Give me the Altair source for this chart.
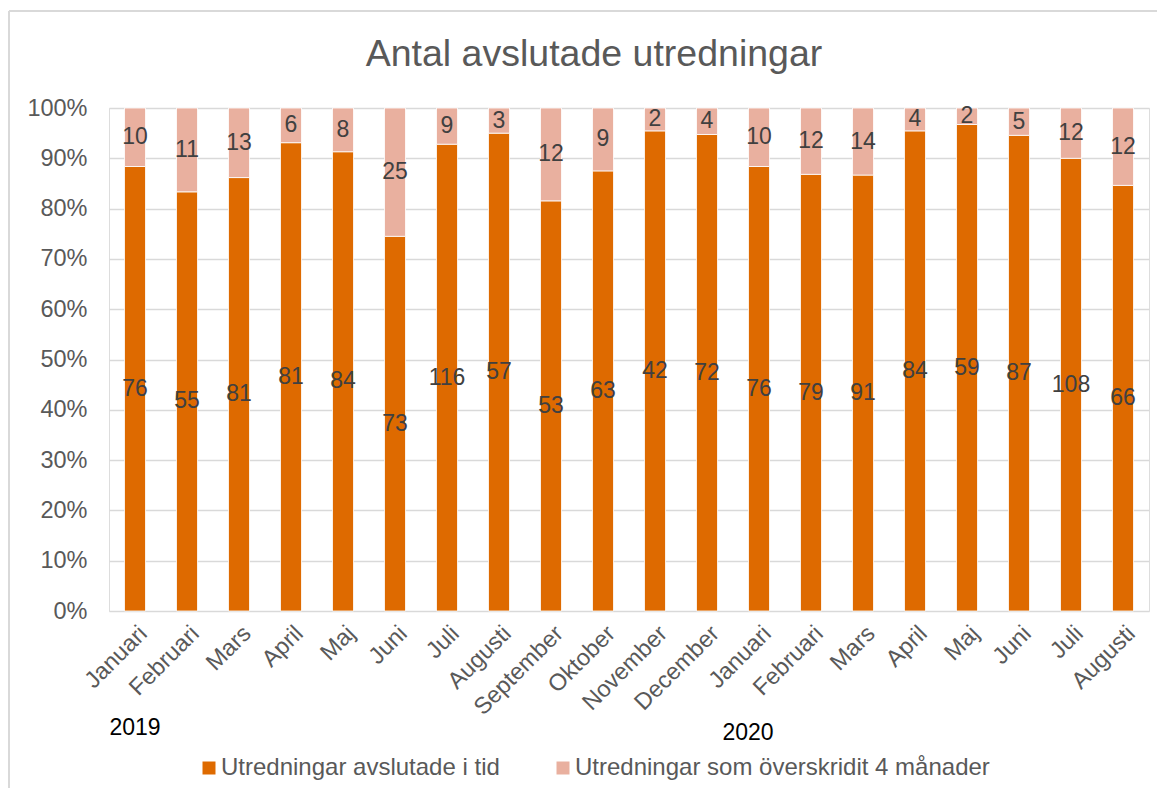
import altair as alt
import pandas as pd

months = ["Januari", "Februari", "Mars", "April", "Maj", "Juni", "Juli", "Augusti",
          "September", "Oktober", "November", "December",
          "Januari", "Februari", "Mars", "April", "Maj", "Juni", "Juli", "Augusti"]
years = [2019] * 12 + [2020] * 8
in_time = [76, 55, 81, 81, 84, 73, 116, 57, 53, 63, 42, 72, 76, 79, 91, 84, 59, 87, 108, 66]
overdue = [10, 11, 13, 6, 8, 25, 9, 3, 12, 9, 2, 4, 10, 12, 14, 4, 2, 5, 12, 12]
series = ["Utredningar avslutade i tid", "Utredningar som överskridit 4 månader"]
colors = ["#DE6A00", "#E9B09F"]
year_labels = ["2019", "2020"]

keys = [f"{m}|{y}" for m, y in zip(months, years)]
rows = []
for k, a, b in zip(keys, in_time, overdue):
    rows.append({"key": k, "series": series[0], "order": 0, "value": a})
    rows.append({"key": k, "series": series[1], "order": 1, "value": b})
df = pd.DataFrame(rows)

FONT = "Liberation Sans"
W, H = 1040, 503

xenc = alt.X("key:N", sort=keys,
             scale=alt.Scale(paddingInner=0.596, paddingOuter=0.298),
             axis=alt.Axis(title=None, labelExpr="split(datum.label, '|')[0]",
                           labelAngle=-45, labelFontSize=23.5, labelColor="#595959",
                           labelFont=FONT, domain=False, ticks=False, labelPadding=10))

base = alt.Chart(df).transform_stack(
    stack="value", groupby=["key"], as_=["y0", "y1"], offset="normalize",
    sort=[alt.SortField("order", "ascending")]
).transform_calculate(mid="(datum.y0 + datum.y1) / 2")

bars = base.mark_bar(stroke="white", strokeWidth=0.8).encode(
    x=xenc,
    y=alt.Y("y0:Q", scale=alt.Scale(domain=[0, 1]),
            axis=alt.Axis(title=None, format=".0%", values=[i / 10 for i in range(11)],
                          labelFontSize=23.5, labelColor="#595959", labelFont=FONT,
                          domain=False, ticks=False, labelPadding=22,
                          gridColor="#d9d9d9", gridWidth=1.5)),
    y2="y1:Q",
    color=alt.Color("series:N", sort=series,
                    scale=alt.Scale(domain=series, range=colors),
                    legend=alt.Legend(title=None, orient="none", direction="horizontal",
                                      legendX=88, legendY=648,
                                      symbolType="square", symbolSize=169,
                                      symbolStrokeWidth=0, labelFontSize=24,
                                      labelColor="#595959", labelFont=FONT,
                                      labelLimit=600,
                                      columnPadding=51, labelOffset=0)),
    order=alt.Order("order:Q"),
)

texts = base.mark_text(fontSize=23, color="#404040", font=FONT, baseline="middle").encode(
    x=alt.X("key:N", sort=keys),
    y=alt.Y("mid:Q"),
    text=alt.Text("value:Q"),
)

year_marks = []
for yl, dx in zip(year_labels, [0, -11]):
    ydf = pd.DataFrame({"year": [yl], "key": [keys[years.index(int(yl))]]})
    year_marks.append(
        alt.Chart(ydf).mark_text(fontSize=23, color="black", font=FONT,
                                 baseline="middle", dx=dx).encode(
            x=alt.X("key:N", sort=keys),
            y=alt.value(620 if yl == "2019" else 625),
            text="year:N",
        )
    )

border_top = alt.Chart(pd.DataFrame({"a": [0]})).mark_rule(color="#d9d9d9", strokeWidth=2).encode(
    x=alt.value(-100), x2=alt.value(W + 8), y=alt.value(-97))
border_left = alt.Chart(pd.DataFrame({"a": [0]})).mark_rule(color="#d9d9d9", strokeWidth=2).encode(
    x=alt.value(-100), y=alt.value(-97), y2=alt.value(H + 177))

chart = alt.layer(border_top, border_left, bars, texts, *year_marks).properties(
    width=W, height=H,
    title=alt.TitleParams("Antal avslutade utredningar", fontSize=37.5, color="#595959",
                          font=FONT, fontWeight="normal", anchor="middle", offset=-63,
                          dx=-35),
    autosize=alt.AutoSizeParams(type="none"),
    padding={"left": 101, "top": 100, "right": 8, "bottom": 177},
).configure_view(stroke=None).configure(background="white")

chart.save("out.html", embed_options={"renderer": "svg", "actions": False})
